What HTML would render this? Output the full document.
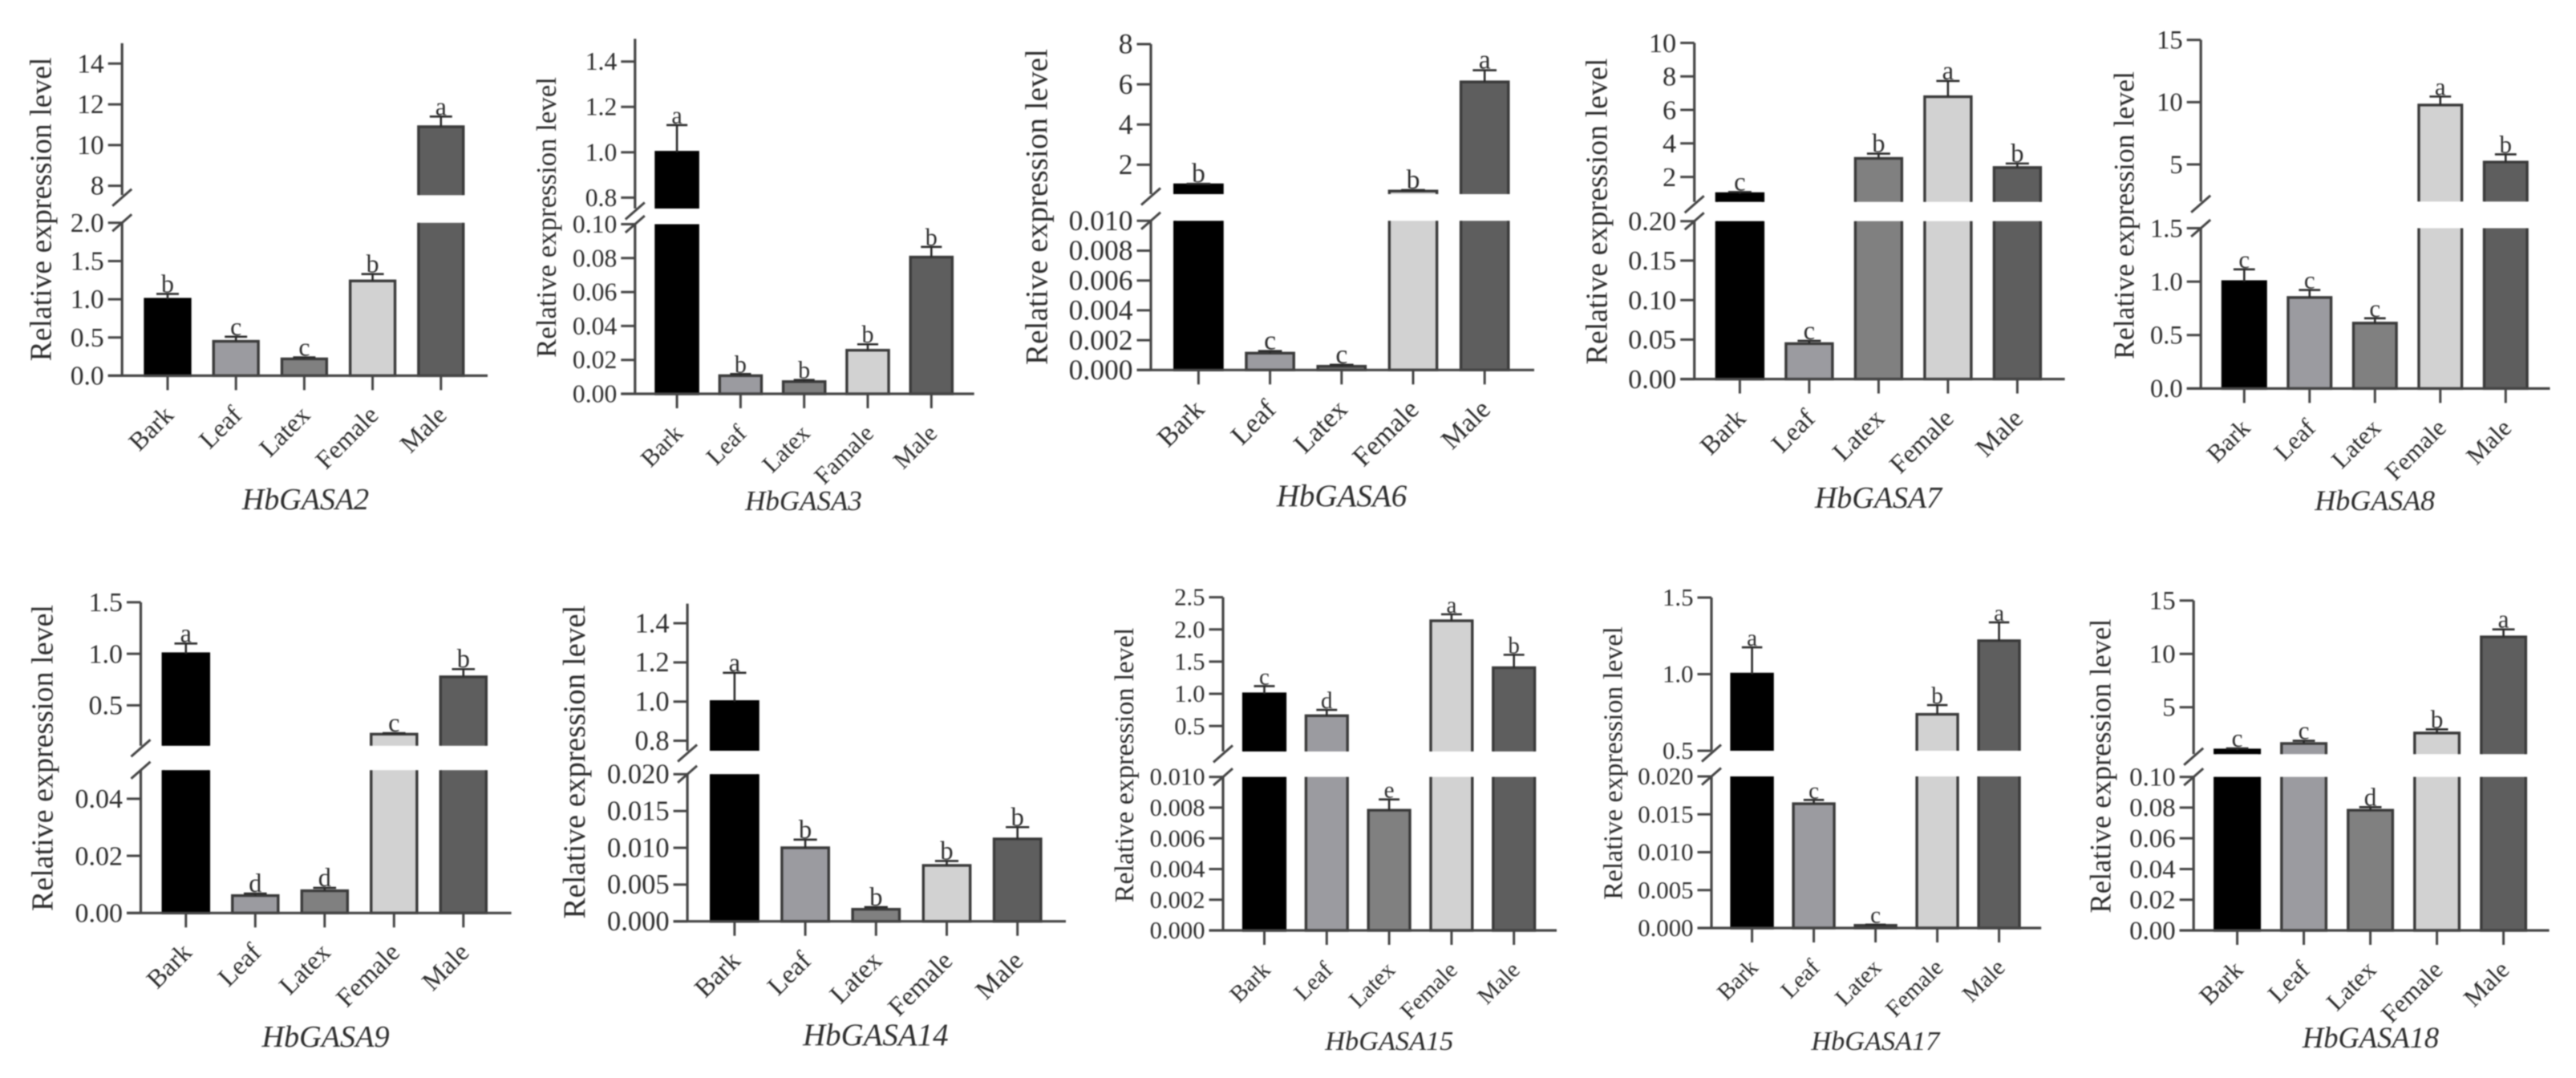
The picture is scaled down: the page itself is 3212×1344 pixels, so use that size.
<!DOCTYPE html>
<html lang="en">
<head>
<meta charset="utf-8">
<title>HbGASA relative expression levels</title>
<style>
html,body{margin:0;padding:0;background:#fff;}
#chart{display:block;width:3212px;height:1344px;filter:blur(0.9px);font-family:"Liberation Serif",serif;}
text{fill:#2e2e2e;}
</style>
</head>
<body>
<svg id="chart" xmlns="http://www.w3.org/2000/svg" width="3212" height="1344" viewBox="0 0 3212 1344"></svg>
<script>
const categories = ["Bark","Leaf","Latex","Female","Male"];
const categoriesGasa3 = ["Bark","Leaf","Latex","Famale","Male"];
const barFills = ["#000000","#9b9ba0","#808080","#d2d2d2","#5e5e5e"];

const gasa2Values = [1.0,0.45,0.22,1.24,10.9];
const gasa2Errors = [0.07,0.06,0.02,0.09,0.5];
const gasa2Letters = ["b","c","c","b","a"];
const gasa2LowerTicks = ["0.0","0.5","1.0","1.5","2.0"];
const gasa2UpperTicks = ["8","10","12","14"];

const gasa3Values = [1.0,0.0107,0.0072,0.0257,0.0806];
const gasa3Errors = [0.12,0.001,0.001,0.0035,0.006];
const gasa3Letters = ["a","b","b","b","b"];
const gasa3LowerTicks = ["0.00","0.02","0.04","0.06","0.08","0.10"];
const gasa3UpperTicks = ["0.8","1.0","1.2","1.4"];

const gasa6Values = [1.0,0.00113,0.00025,0.69,6.12];
const gasa6Errors = [0.05,0.00014,0.0001,0.05,0.58];
const gasa6Letters = ["b","c","c","b","a"];
const gasa6LowerTicks = ["0.000","0.002","0.004","0.006","0.008","0.010"];
const gasa6UpperTicks = ["2","4","6","8"];

const gasa7Values = [1.0,0.0449,3.11,6.79,2.56];
const gasa7Errors = [0.1,0.0035,0.28,0.94,0.24];
const gasa7Letters = ["c","c","b","a","b"];
const gasa7LowerTicks = ["0.00","0.05","0.10","0.15","0.20"];
const gasa7UpperTicks = ["2","4","6","8","10"];

const gasa8Values = [1.0,0.852,0.612,9.77,5.19];
const gasa8Errors = [0.115,0.07,0.045,0.68,0.62];
const gasa8Letters = ["c","c","c","a","b"];
const gasa8LowerTicks = ["0.0","0.5","1.0","1.5"];
const gasa8UpperTicks = ["5","10","15"];

const gasa9Values = [1.0,0.0061,0.0078,0.22,0.776];
const gasa9Errors = [0.1,0.0007,0.001,0.01,0.075];
const gasa9Letters = ["a","d","d","c","b"];
const gasa9LowerTicks = ["0.00","0.02","0.04"];
const gasa9UpperTicks = ["0.5","1.0","1.5"];

const gasa14Values = [1.0,0.01,0.00164,0.0076,0.0112];
const gasa14Errors = [0.147,0.0011,0.0003,0.0006,0.0016];
const gasa14Letters = ["a","b","b","b","b"];
const gasa14LowerTicks = ["0.000","0.005","0.010","0.015","0.020"];
const gasa14UpperTicks = ["0.8","1.0","1.2","1.4"];

const gasa15Values = [1.0,0.66,0.00783,2.135,1.406];
const gasa15Errors = [0.12,0.09,0.0007,0.1,0.2];
const gasa15Letters = ["c","d","e","a","b"];
const gasa15LowerTicks = ["0.000","0.002","0.004","0.006","0.008","0.010"];
const gasa15UpperTicks = ["0.5","1.0","1.5","2.0","2.5"];

const gasa17Values = [1.0,0.0164,0.00035,0.738,1.218];
const gasa17Errors = [0.175,0.0005,0.0001,0.06,0.12];
const gasa17Letters = ["a","c","c","b","a"];
const gasa17LowerTicks = ["0.000","0.005","0.010","0.015","0.020"];
const gasa17UpperTicks = ["0.5","1.0","1.5"];

const gasa18Values = [1.0,1.61,0.0783,2.59,11.6];
const gasa18Errors = [0.15,0.25,0.002,0.34,0.7];
const gasa18Letters = ["c","c","d","b","a"];
const gasa18LowerTicks = ["0.00","0.02","0.04","0.06","0.08","0.10"];
const gasa18UpperTicks = ["5","10","15"];

const panels = [
 {id:"hbgasa2",title:"HbGASA2",cats:categories,values:gasa2Values,errors:gasa2Errors,letters:gasa2Letters,lowerTicks:gasa2LowerTicks,upperTicks:gasa2UpperTicks,
  lowerMax:2,upperMin:7.54,upperMax:15,ax:152.2,y0:468.4,yLowTop:277.8,yBot:243.3,yTop:53.9,first:209,step:85.2,bw:55.9,xEnd:608,tickFs:33.6,
  titleFs:38,titleX:381,titleY:635,yTitleFs:37.7,yTitleX:63.3,yTitleY:261},
 {id:"hbgasa3",title:"HbGASA3",cats:categoriesGasa3,values:gasa3Values,errors:gasa3Errors,letters:gasa3Letters,lowerTicks:gasa3LowerTicks,upperTicks:gasa3UpperTicks,
  lowerMax:0.1,upperMin:0.752,upperMax:1.5,ax:791.8,y0:491,yLowTop:279.5,yBot:260,yTop:48.4,first:844.1,step:79.3,bw:52.2,xEnd:1214.7,tickFs:31.7,
  titleFs:35,titleX:1002,titleY:636,yTitleFs:34.8,yTitleX:693,yTitleY:271},
 {id:"hbgasa6",title:"HbGASA6",cats:categories,values:gasa6Values,errors:gasa6Errors,letters:gasa6Letters,lowerTicks:gasa6LowerTicks,upperTicks:gasa6UpperTicks,
  lowerMax:0.01,upperMin:0.54,upperMax:8,ax:1435,y0:461.3,yLowTop:275.3,yBot:242,yTop:55,first:1494.4,step:89.2,bw:59.3,xEnd:1913,tickFs:35.5,
  titleFs:39,titleX:1673,titleY:631,yTitleFs:39.2,yTitleX:1305.5,yTitleY:258},
 {id:"hbgasa7",title:"HbGASA7",cats:categories,values:gasa7Values,errors:gasa7Errors,letters:gasa7Letters,lowerTicks:gasa7LowerTicks,upperTicks:gasa7UpperTicks,
  lowerMax:0.2,upperMin:0.51,upperMax:10,ax:2112.7,y0:472.6,yLowTop:275.7,yBot:251.7,yTop:53.5,first:2169.4,step:86.5,bw:58,xEnd:2574.6,tickFs:34.3,
  titleFs:38,titleX:2342,titleY:633,yTitleFs:38,yTitleX:2003.7,yTitleY:263.5},
 {id:"hbgasa8",title:"HbGASA8",cats:categories,values:gasa8Values,errors:gasa8Errors,letters:gasa8Letters,lowerTicks:gasa8LowerTicks,upperTicks:gasa8UpperTicks,
  lowerMax:1.5,upperMin:2.02,upperMax:15,ax:2744.2,y0:484.4,yLowTop:284.5,yBot:251.3,yTop:49.7,first:2798.3,step:81.5,bw:53.6,xEnd:3179.5,tickFs:32.6,
  titleFs:36,titleX:2961.2,titleY:636,yTitleFs:35.7,yTitleX:2660.6,yTitleY:268.5},
 {id:"hbgasa9",title:"HbGASA9",cats:categories,values:gasa9Values,errors:gasa9Errors,letters:gasa9Letters,lowerTicks:gasa9LowerTicks,upperTicks:gasa9UpperTicks,
  lowerMax:0.05,upperMin:0.107,upperMax:1.5,ax:175.5,y0:1138.3,yLowTop:960.2,yBot:929.8,yTop:750.9,first:231.8,step:86.5,bw:57.1,xEnd:637.6,tickFs:34,
  titleFs:38.2,titleX:406,titleY:1305,yTitleFs:38,yTitleX:65.3,yTitleY:945},
 {id:"hbgasa14",title:"HbGASA14",cats:categories,values:gasa14Values,errors:gasa14Errors,letters:gasa14Letters,lowerTicks:gasa14LowerTicks,upperTicks:gasa14UpperTicks,
  lowerMax:0.02,upperMin:0.749,upperMax:1.5,ax:857.1,y0:1148.7,yLowTop:965.2,yBot:936,yTop:752.6,first:915.9,step:88.2,bw:58.4,xEnd:1329,tickFs:34.5,
  titleFs:38.9,titleX:1091.8,titleY:1303,yTitleFs:38.9,yTitleX:729,yTitleY:950},
 {id:"hbgasa15",title:"HbGASA15",cats:categories,values:gasa15Values,errors:gasa15Errors,letters:gasa15Letters,lowerTicks:gasa15LowerTicks,upperTicks:gasa15UpperTicks,
  lowerMax:0.01,upperMin:0.105,upperMax:2.5,ax:1525,y0:1160,yLowTop:968.6,yBot:936.9,yTop:744.6,first:1576.5,step:77.8,bw:51.8,xEnd:1941,tickFs:30.6,
  titleFs:34.3,titleX:1732.3,titleY:1309,yTitleFs:34.1,yTitleX:1413,yTitleY:954},
 {id:"hbgasa17",title:"HbGASA17",cats:categories,values:gasa17Values,errors:gasa17Errors,letters:gasa17Letters,lowerTicks:gasa17LowerTicks,upperTicks:gasa17UpperTicks,
  lowerMax:0.02,upperMin:0.5,upperMax:1.5,ax:2134,y0:1157,yLowTop:968,yBot:936,yTop:745,first:2184.6,step:77,bw:51,xEnd:2545.2,tickFs:30.8,
  titleFs:34.3,titleX:2338.4,titleY:1309,yTitleFs:33.9,yTitleX:2022.5,yTitleY:951.5},
 {id:"hbgasa18",title:"HbGASA18",cats:categories,values:gasa18Values,errors:gasa18Errors,letters:gasa18Letters,lowerTicks:gasa18LowerTicks,upperTicks:gasa18UpperTicks,
  lowerMax:0.1,upperMin:0.61,upperMax:15,ax:2735.2,y0:1160,yLowTop:968.6,yBot:940.2,yTop:748.8,first:2789.6,step:83,bw:55.6,xEnd:3178.6,tickFs:32.9,
  titleFs:36.5,titleX:2956,titleY:1306,yTitleFs:36.5,yTitleX:2631.6,yTitleY:955}
];

const NS = "http://www.w3.org/2000/svg";
const AXIS_COLOR = "#454545";
const BORDER_COLOR = "#3a3a3a";
const TICK_LEN = 17.5;

function make(tag, parent, attrs) {
  const el = document.createElementNS(NS, tag);
  for (const k in attrs) el.setAttribute(k, attrs[k]);
  parent.appendChild(el);
  return el;
}

function drawPanel(p, root) {
  const g = make("g", root, {});
  
  

  const yLower = v => p.y0 - (v / p.lowerMax) * (p.y0 - p.yLowTop);
  const yUpper = v => p.yBot - ((v - p.upperMin) / (p.upperMax - p.upperMin)) * (p.yBot - p.yTop);
  const yScale = v => (v > p.lowerMax ? yUpper(v) : yLower(v));
  const xScale = i => p.first + i * p.step;

  // bars
  p.values.forEach((v, i) => {
    const cx = xScale(i), l = cx - p.bw / 2, r = cx + p.bw / 2;
    const fill = barFills[i];
    const barG = make("g", g, {});
    
    
    const stroke = i === 0 ? "#000" : BORDER_COLOR;
    if (v > p.lowerMax) {
      const top = yUpper(v);
      make("rect", barG, {x:l, y:top, width:p.bw, height:p.yBot - top, fill:fill});
      make("path", barG, {d:`M${l} ${p.yBot}V${top}H${r}V${p.yBot}`, fill:"none", stroke:stroke, "stroke-width":3.4});
      make("rect", barG, {x:l, y:p.yLowTop, width:p.bw, height:p.y0 - p.yLowTop, fill:fill});
      make("path", barG, {d:`M${l} ${p.yLowTop}V${p.y0}H${r}V${p.yLowTop}`, fill:"none", stroke:stroke, "stroke-width":3.4});
    } else {
      const top = yLower(v);
      make("rect", barG, {x:l, y:top, width:p.bw, height:p.y0 - top, fill:fill, stroke:stroke, "stroke-width":3.4});
    }
    // error bar
    const e = p.errors[i];
    const yv = yScale(v), ye = yScale(v + e);
    const err = make("path", g, {d:`M${cx} ${yv}V${ye}M${cx - p.bw * 0.25} ${ye}H${cx + p.bw * 0.25}`, fill:"none", stroke:"#2a2a2a", "stroke-width":2.6});
    
    
    // significance letter
    const letter = make("text", g, {x:cx, y:ye - 2, "text-anchor":"middle", "font-size":p.tickFs * 0.95});
    letter.textContent = p.letters[i];
    
    
    // x tick
    const xt = make("line", g, {x1:cx, x2:cx, y1:p.y0, y2:p.y0 + 18, stroke:AXIS_COLOR, "stroke-width":3});
    
    
    // x label
    const lx = cx + 9, ly = p.y0 + 51;
    const xl = make("text", g, {x:lx, y:ly, "text-anchor":"end", "font-size":p.tickFs * 0.96, transform:`rotate(-45 ${lx} ${ly})`});
    xl.textContent = p.cats[i];
    
    
  });

  // axes
  const xAxis = make("line", g, {x1:p.ax - TICK_LEN, x2:p.xEnd, y1:p.y0, y2:p.y0, stroke:AXIS_COLOR, "stroke-width":3.2});
  
  
  const yLow = make("line", g, {x1:p.ax, x2:p.ax, y1:p.y0, y2:p.yLowTop, stroke:AXIS_COLOR, "stroke-width":3.2});
  
  
  const yUp = make("line", g, {x1:p.ax, x2:p.ax, y1:p.yBot, y2:p.yTop, stroke:AXIS_COLOR, "stroke-width":3.2});
  
  

  // break marks
  [p.yLowTop, p.yBot + 3].forEach(cy => {
    const mark = make("line", g, {x1:p.ax - 12, y1:cy + 10.5, x2:p.ax + 12, y2:cy - 10.5, stroke:AXIS_COLOR, "stroke-width":3});
    
    
  });

  // y ticks
  const drawTick = (label, y) => {
    const t = make("line", g, {x1:p.ax - TICK_LEN, x2:p.ax, y1:y, y2:y, stroke:AXIS_COLOR, "stroke-width":3});
    
    
    const tl = make("text", g, {x:p.ax - TICK_LEN - 5, y:y + p.tickFs * 0.33, "text-anchor":"end", "font-size":p.tickFs});
    tl.textContent = label;
    
    
  };
  p.lowerTicks.forEach(s => drawTick(s, yLower(parseFloat(s))));
  p.upperTicks.forEach(s => drawTick(s, yUpper(parseFloat(s))));

  // titles
  const yt = make("text", g, {x:p.yTitleX, y:p.yTitleY, "text-anchor":"middle", "font-size":p.yTitleFs, transform:`rotate(-90 ${p.yTitleX} ${p.yTitleY})`});
  yt.textContent = "Relative expression level";
  
  
  const title = make("text", g, {x:p.titleX, y:p.titleY, "text-anchor":"middle", "font-size":p.titleFs, "font-style":"italic"});
  title.textContent = p.title;
  
  
}

const rootSvg = document.getElementById("chart");
panels.forEach(p => drawPanel(p, rootSvg));
</script>
</body>
</html>
